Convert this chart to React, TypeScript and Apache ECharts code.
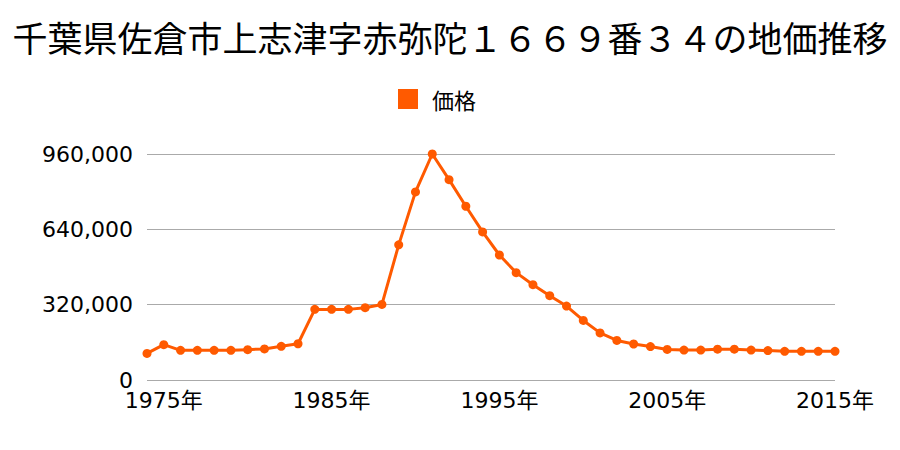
import React, { useEffect, useRef } from "react";
import * as echarts from "echarts";

const years: string[] = [];
for (let y = 1974; y <= 2015; y++) years.push(String(y));

const prices: number[] = [
  113000, 150000, 126000, 126000, 126000, 126000, 129000, 132000, 143000, 154000,
  300000, 300000, 300000, 307000, 321000, 574000, 799000, 960000, 851000, 738000,
  629000, 531000, 456000, 405000, 358000, 314000, 253000, 200000, 168000, 153000,
  142000, 130000, 127000, 127000, 131000, 131000, 127000, 125000, 122000, 122000,
  122000, 122000,
];

const titleText = "千葉県佐倉市上志津字赤弥陀１６６９番３４の地価推移";
const seriesName = "価格";
const labelYears = ["1975", "1985", "1995", "2005", "2015"];

const FONT = "'Noto Sans CJK JP', 'Noto Sans', sans-serif";
const NUMFONT = "'DejaVu Sans', 'Noto Sans CJK JP', sans-serif";

export default function App() {
  const ref = useRef<HTMLDivElement>(null);
  useEffect(() => {
    if (!ref.current) return;
    const chart = echarts.init(ref.current, null, { renderer: "svg" });
    chart.setOption({
      animation: false,
      textStyle: { fontFamily: FONT },
      title: {
        text: titleText,
        left: "center",
        top: 14,
        textStyle: { fontSize: 35, fontWeight: "normal", color: "#000", fontFamily: FONT },
      },
      legend: {
        data: [seriesName],
        top: 83,
        left: 393,
        icon: "rect",
        itemWidth: 20,
        itemHeight: 20,
        itemGap: 10,
        textStyle: { fontSize: 22, color: "#000", fontFamily: FONT, padding: [0, 0, 0, 9] },
      },
      grid: { left: 147, right: 65, top: 154, bottom: 70, containLabel: false },
      xAxis: {
        type: "category",
        data: years,
        boundaryGap: false,
        axisLine: { show: false },
        axisTick: { show: false },
        axisLabel: {
          interval: (_i: number, v: string) => labelYears.indexOf(v) >= 0,
          formatter: (v: string) => v + "年",
          fontSize: 22,
          color: "#000",
          margin: 9,
          fontFamily: NUMFONT,
        },
        splitLine: { show: false },
      },
      yAxis: {
        type: "value",
        min: 0,
        max: 960000,
        interval: 320000,
        axisLine: { show: false },
        axisTick: { show: false },
        axisLabel: {
          fontSize: 22,
          color: "#000",
          margin: 14,
          fontFamily: NUMFONT,
          formatter: (v: number) => v.toLocaleString("en-US"),
        },
        splitLine: { lineStyle: { color: "#aaaaaa", width: 1 } },
      },
      series: [
        {
          name: seriesName,
          type: "line",
          data: prices,
          symbol: "circle",
          symbolSize: 9,
          itemStyle: { color: "#ff5a00" },
          lineStyle: { color: "#ff5a00", width: 3 },
        },
      ],
    });
    return () => chart.dispose();
  }, []);
  return <div ref={ref} style={{ width: 900, height: 450, position: "absolute", left: 0, top: 0 }} />;
}
